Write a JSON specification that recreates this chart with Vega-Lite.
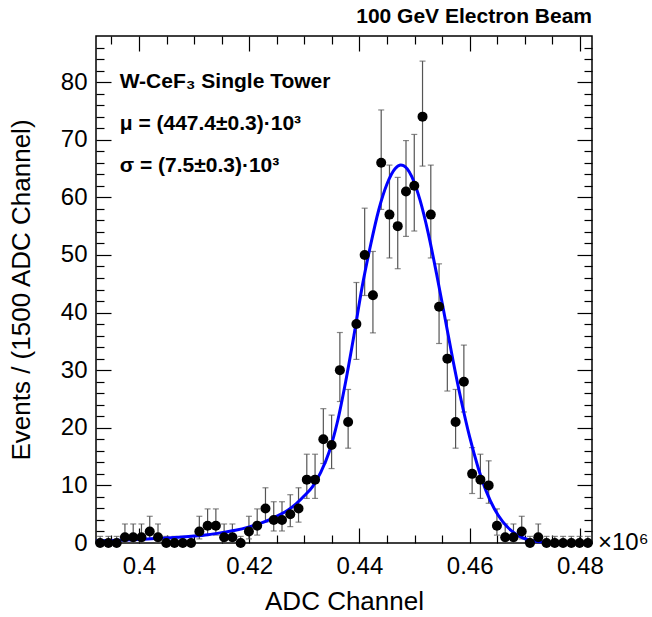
{
  "$schema": "https://vega.github.io/schema/vega-lite/v6.json",
  "width": 496,
  "height": 507,
  "autosize": {"type": "none"},
  "padding": {"left": 96, "top": 36, "right": 60, "bottom": 74},
  "background": "white",
  "title": {"text": "100 GeV Electron Beam", "anchor": "end", "frame": "group", "fontSize": 21, "fontWeight": "bold", "font": "Liberation Sans", "color": "#000", "offset": 8},
  "datasets": {
    "bins": [
      {"x": 0.39295, "n": 0, "lo": 0, "hi": 1.148},
      {"x": 0.39445, "n": 0, "lo": 0, "hi": 1.148},
      {"x": 0.39595, "n": 0, "lo": 0, "hi": 1.148},
      {"x": 0.39745, "n": 1, "lo": 0.173, "hi": 3.3},
      {"x": 0.39895, "n": 1, "lo": 0.173, "hi": 3.3},
      {"x": 0.40045, "n": 1, "lo": 0.173, "hi": 3.3},
      {"x": 0.40195, "n": 2, "lo": 0.708, "hi": 4.638},
      {"x": 0.40345, "n": 1, "lo": 0.173, "hi": 3.3},
      {"x": 0.40495, "n": 0, "lo": 0, "hi": 1.148},
      {"x": 0.40645, "n": 0, "lo": 0, "hi": 1.148},
      {"x": 0.40795, "n": 0, "lo": 0, "hi": 1.148},
      {"x": 0.40945, "n": 0, "lo": 0, "hi": 1.148},
      {"x": 0.41095, "n": 2, "lo": 0.708, "hi": 4.638},
      {"x": 0.41245, "n": 3, "lo": 1.367, "hi": 5.918},
      {"x": 0.41395, "n": 3, "lo": 1.367, "hi": 5.918},
      {"x": 0.41545, "n": 1, "lo": 0.173, "hi": 3.3},
      {"x": 0.41695, "n": 1, "lo": 0.173, "hi": 3.3},
      {"x": 0.41845, "n": 0, "lo": 0, "hi": 1.148},
      {"x": 0.41995, "n": 2, "lo": 0.708, "hi": 4.638},
      {"x": 0.42145, "n": 3, "lo": 1.367, "hi": 5.918},
      {"x": 0.42295, "n": 6, "lo": 3.62, "hi": 9.584},
      {"x": 0.42445, "n": 4, "lo": 2.086, "hi": 7.163},
      {"x": 0.42595, "n": 4, "lo": 2.086, "hi": 7.163},
      {"x": 0.42745, "n": 5, "lo": 2.84, "hi": 8.382},
      {"x": 0.42895, "n": 6, "lo": 3.62, "hi": 9.584},
      {"x": 0.43045, "n": 11, "lo": 7.739, "hi": 15.411},
      {"x": 0.43195, "n": 11, "lo": 7.739, "hi": 15.411},
      {"x": 0.43345, "n": 18, "lo": 13.801, "hi": 23.317},
      {"x": 0.43495, "n": 17, "lo": 12.922, "hi": 22.199},
      {"x": 0.43645, "n": 30, "lo": 24.556, "hi": 36.535},
      {"x": 0.43795, "n": 21, "lo": 16.458, "hi": 26.651},
      {"x": 0.43945, "n": 38, "lo": 31.866, "hi": 45.215},
      {"x": 0.44095, "n": 50, "lo": 42.955, "hi": 58.115},
      {"x": 0.44245, "n": 43, "lo": 36.471, "hi": 50.605},
      {"x": 0.44395, "n": 66, "lo": 57.899, "hi": 75.163},
      {"x": 0.44545, "n": 57, "lo": 49.475, "hi": 65.592},
      {"x": 0.44695, "n": 55, "lo": 47.609, "hi": 63.459},
      {"x": 0.44845, "n": 61, "lo": 53.213, "hi": 69.85},
      {"x": 0.44995, "n": 62, "lo": 54.15, "hi": 70.914},
      {"x": 0.45145, "n": 74, "lo": 65.419, "hi": 83.639},
      {"x": 0.45295, "n": 57, "lo": 49.475, "hi": 65.592},
      {"x": 0.45445, "n": 41, "lo": 34.626, "hi": 48.452},
      {"x": 0.45595, "n": 32, "lo": 26.376, "hi": 38.713},
      {"x": 0.45745, "n": 21, "lo": 16.458, "hi": 26.651},
      {"x": 0.45895, "n": 28, "lo": 22.743, "hi": 34.351},
      {"x": 0.46045, "n": 12, "lo": 8.589, "hi": 16.554},
      {"x": 0.46195, "n": 11, "lo": 7.739, "hi": 15.411},
      {"x": 0.46345, "n": 10, "lo": 6.896, "hi": 14.26},
      {"x": 0.46495, "n": 3, "lo": 1.367, "hi": 5.918},
      {"x": 0.46645, "n": 1, "lo": 0.173, "hi": 3.3},
      {"x": 0.46795, "n": 1, "lo": 0.173, "hi": 3.3},
      {"x": 0.46945, "n": 2, "lo": 0.708, "hi": 4.638},
      {"x": 0.47095, "n": 0, "lo": 0, "hi": 1.148},
      {"x": 0.47245, "n": 1, "lo": 0.173, "hi": 3.3},
      {"x": 0.47395, "n": 0, "lo": 0, "hi": 1.148},
      {"x": 0.47545, "n": 0, "lo": 0, "hi": 1.148},
      {"x": 0.47695, "n": 0, "lo": 0, "hi": 1.148},
      {"x": 0.47845, "n": 0, "lo": 0, "hi": 1.148},
      {"x": 0.47995, "n": 0, "lo": 0, "hi": 1.148},
      {"x": 0.48145, "n": 0, "lo": 0, "hi": 1.148}
    ],
    "fit": [
      {"x": 0.3922, "y": 0.38},
      {"x": 0.395, "y": 0.45},
      {"x": 0.4, "y": 0.62},
      {"x": 0.405, "y": 0.85},
      {"x": 0.41, "y": 1.2},
      {"x": 0.4125, "y": 1.45},
      {"x": 0.415, "y": 1.8},
      {"x": 0.4175, "y": 2.2},
      {"x": 0.42, "y": 2.8},
      {"x": 0.422, "y": 3.4},
      {"x": 0.424, "y": 4.2},
      {"x": 0.4255, "y": 4.9},
      {"x": 0.427, "y": 5.7},
      {"x": 0.4285, "y": 6.8},
      {"x": 0.43, "y": 8.2},
      {"x": 0.4315, "y": 9.8},
      {"x": 0.433, "y": 12.3},
      {"x": 0.4345, "y": 15.8},
      {"x": 0.436, "y": 21},
      {"x": 0.4375, "y": 28},
      {"x": 0.439, "y": 36},
      {"x": 0.4405, "y": 44.5},
      {"x": 0.442, "y": 51.6},
      {"x": 0.4435, "y": 57.8},
      {"x": 0.445, "y": 62.3},
      {"x": 0.4465, "y": 65.0},
      {"x": 0.4475, "y": 65.6},
      {"x": 0.448, "y": 65.5},
      {"x": 0.4495, "y": 63.6},
      {"x": 0.451, "y": 59.5},
      {"x": 0.4525, "y": 53.7},
      {"x": 0.454, "y": 46.7},
      {"x": 0.4555, "y": 39.2},
      {"x": 0.457, "y": 31.6},
      {"x": 0.4585, "y": 24.6},
      {"x": 0.46, "y": 18.4},
      {"x": 0.4615, "y": 13.2},
      {"x": 0.463, "y": 9.0},
      {"x": 0.4645, "y": 5.9},
      {"x": 0.466, "y": 3.7},
      {"x": 0.4675, "y": 2.2},
      {"x": 0.469, "y": 1.2},
      {"x": 0.4705, "y": 0.6},
      {"x": 0.472, "y": 0.3},
      {"x": 0.4735, "y": 0.15},
      {"x": 0.475, "y": 0.07},
      {"x": 0.4775, "y": 0.02},
      {"x": 0.48, "y": 0.0},
      {"x": 0.4822, "y": 0.0}
    ]
  },
  "resolve": {"axis": {"x": "independent", "y": "independent"}},
  "layer": [
    {
      "data": {"name": "bins"},
      "mark": {"type": "rule", "color": "#555555", "strokeWidth": 1.2},
      "encoding": {
        "x": {"field": "x", "type": "quantitative", "scale": {"domain": [0.3922, 0.4822], "nice": false, "zero": false},
              "axis": {"orient": "bottom", "values": [0.4, 0.42, 0.44, 0.46, 0.48], "ticks": false, "format": ".2~f", "labelPadding": 11, "title": "ADC Channel", "titlePadding": 10, "labelFlush": false}},
        "y": {"field": "lo", "type": "quantitative", "scale": {"domain": [0, 88], "nice": false},
              "axis": {"orient": "left", "values": [0, 10, 20, 30, 40, 50, 60, 70, 80], "ticks": false, "format": "d", "labelPadding": 9, "title": "Events / (1500 ADC Channel)", "titlePadding": 26}},
        "y2": {"field": "hi"}
      }
    },
    {
      "data": {"name": "bins"},
      "mark": {"type": "tick", "orient": "horizontal", "color": "#555555", "thickness": 1.2, "size": 6},
      "encoding": {
        "x": {"field": "x", "type": "quantitative", "scale": {"domain": [0.3922, 0.4822], "nice": false, "zero": false},
              "axis": {"orient": "bottom", "values": [0.4, 0.42, 0.44, 0.46, 0.48], "tickSize": -15, "labels": false, "title": null}},
        "y": {"field": "hi", "type": "quantitative", "scale": {"domain": [0, 88], "nice": false},
              "axis": {"orient": "left", "values": [0, 10, 20, 30, 40, 50, 60, 70, 80], "tickSize": -15, "labels": false, "title": null}}
      }
    },
    {
      "data": {"name": "bins"},
      "mark": {"type": "tick", "orient": "horizontal", "color": "#555555", "thickness": 1.2, "size": 6},
      "encoding": {
        "x": {"field": "x", "type": "quantitative", "scale": {"domain": [0.3922, 0.4822], "nice": false, "zero": false},
              "axis": {"orient": "bottom", "values": [0.395, 0.405, 0.41, 0.415, 0.425, 0.43, 0.435, 0.445, 0.45, 0.455, 0.465, 0.47, 0.475], "tickSize": -8, "labels": false, "title": null}},
        "y": {"field": "lo", "type": "quantitative", "scale": {"domain": [0, 88], "nice": false},
              "axis": {"orient": "left", "values": [2, 4, 6, 8, 12, 14, 16, 18, 22, 24, 26, 28, 32, 34, 36, 38, 42, 44, 46, 48, 52, 54, 56, 58, 62, 64, 66, 68, 72, 74, 76, 78, 82, 84, 86], "tickSize": -8, "labels": false, "title": null}}
      }
    },
    {
      "data": {"name": "fit"},
      "mark": {"type": "line", "color": "#0000ff", "strokeWidth": 3, "interpolate": "monotone"},
      "encoding": {
        "x": {"field": "x", "type": "quantitative", "scale": {"domain": [0.3922, 0.4822], "nice": false, "zero": false},
              "axis": {"orient": "top", "values": [0.4, 0.42, 0.44, 0.46, 0.48], "tickSize": -15, "labels": false, "title": null}},
        "y": {"field": "y", "type": "quantitative", "scale": {"domain": [0, 88], "nice": false},
              "axis": {"orient": "right", "values": [0, 10, 20, 30, 40, 50, 60, 70, 80], "tickSize": -15, "labels": false, "title": null}}
      }
    },
    {
      "data": {"name": "bins"},
      "mark": {"type": "circle", "color": "#000000", "opacity": 1, "size": 100},
      "encoding": {
        "x": {"field": "x", "type": "quantitative", "scale": {"domain": [0.3922, 0.4822], "nice": false, "zero": false},
              "axis": {"orient": "top", "values": [0.395, 0.405, 0.41, 0.415, 0.425, 0.43, 0.435, 0.445, 0.45, 0.455, 0.465, 0.47, 0.475], "tickSize": -8, "labels": false, "title": null}},
        "y": {"field": "n", "type": "quantitative", "scale": {"domain": [0, 88], "nice": false},
              "axis": {"orient": "right", "values": [2, 4, 6, 8, 12, 14, 16, 18, 22, 24, 26, 28, 32, 34, 36, 38, 42, 44, 46, 48, 52, 54, 56, 58, 62, 64, 66, 68, 72, 74, 76, 78, 82, 84, 86], "tickSize": -8, "labels": false, "title": null}}
      }
    },
    {
      "data": {"values": [{}]},
      "mark": {"type": "text", "text": "W-CeF₃ Single Tower", "align": "left", "baseline": "middle", "fontSize": 21, "fontWeight": "bold", "font": "Liberation Sans", "color": "#000"},
      "encoding": {
        "x": {"datum": 0.3965, "type": "quantitative", "axis": null},
        "y": {"datum": 80, "type": "quantitative", "axis": null}
      }
    },
    {
      "data": {"values": [{}]},
      "mark": {"type": "text", "text": "μ = (447.4±0.3)·10³", "align": "left", "baseline": "middle", "fontSize": 21, "fontWeight": "bold", "font": "Liberation Sans", "color": "#000"},
      "encoding": {
        "x": {"datum": 0.3965, "type": "quantitative", "axis": null},
        "y": {"datum": 72.7, "type": "quantitative", "axis": null}
      }
    },
    {
      "data": {"values": [{}]},
      "mark": {"type": "text", "text": "σ = (7.5±0.3)·10³", "align": "left", "baseline": "middle", "fontSize": 21, "fontWeight": "bold", "font": "Liberation Sans", "color": "#000"},
      "encoding": {
        "x": {"datum": 0.3965, "type": "quantitative", "axis": null},
        "y": {"datum": 65.4, "type": "quantitative", "axis": null}
      }
    },
    {
      "data": {"values": [{}]},
      "mark": {"type": "text", "text": "×10⁶", "align": "left", "baseline": "middle", "fontSize": 24, "font": "Liberation Sans", "color": "#000", "dx": 6},
      "encoding": {
        "x": {"datum": 0.4822, "type": "quantitative", "axis": null},
        "y": {"datum": 0, "type": "quantitative", "axis": null}
      }
    }
  ],
  "config": {
    "font": "Liberation Sans",
    "axis": {"grid": false, "domain": false, "labelFont": "Liberation Sans", "titleFont": "Liberation Sans", "labelColor": "#000", "titleColor": "#000", "tickColor": "#000", "tickWidth": 1.2, "titleFontWeight": "normal", "labelFontSize": 24, "titleFontSize": 26},
    "view": {"stroke": "#000", "strokeWidth": 1.5}
  }
}
